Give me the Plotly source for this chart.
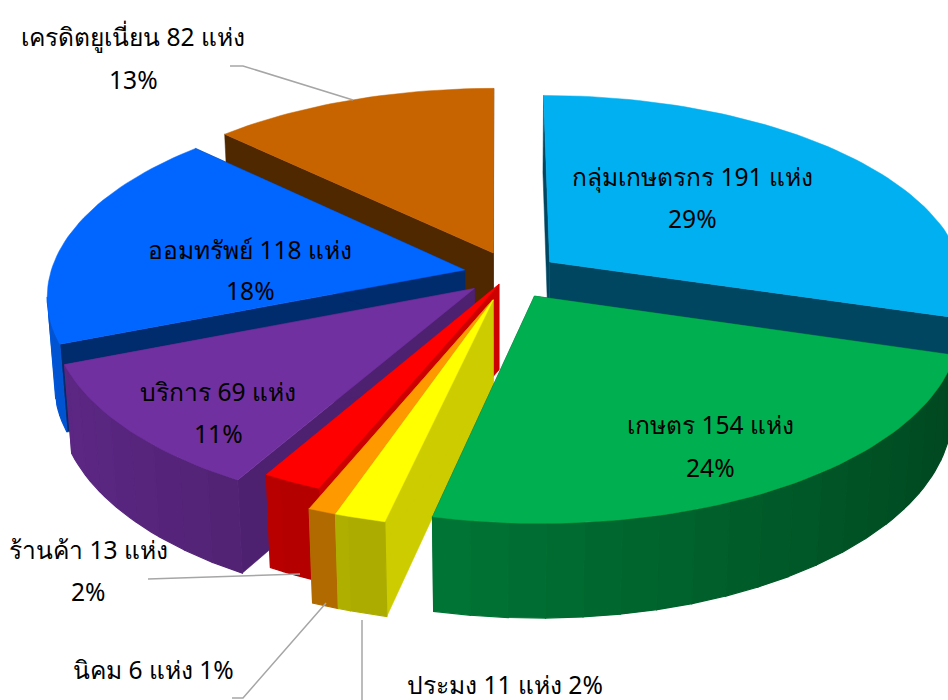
import numpy as np
import plotly.graph_objects as go

names = ["กลุ่มเกษตรกร", "เกษตร", "ประมง", "นิคม", "ร้านค้า", "บริการ", "ออมทรัพย์", "เครดิตยูเนี่ยน"]
counts = [191, 154, 11, 6, 13, 69, 118, 82]
percents = [29, 24, 2, 1, 2, 11, 18, 13]
tops = ["#00B0F0", "#00B050", "#FFFF00", "#FF9900", "#FF0000", "#7030A0", "#0066FF", "#C86400"]
face_shade = [0.40, 0.40, 0.80, 0.75, 0.80, 0.70, 0.43, 0.40]
offset_x = [0.128, 0.089, -0.009, -0.010, 0.005, -0.054, -0.078, -0.009]
offset_y = [0.016, -0.161, -0.180, -0.180, -0.100, -0.122, -0.026, 0.064]
draw_order = [7, 0, 6, 5, 4, 3, 2, 1]

W, H = 948, 700
CX, CY = 497, 265
SCALE, TILT, DIST, THICK = 412.0, np.radians(27.3), 6.84, 0.235


def project(X, Y, z):
    w = DIST + Y * np.cos(TILT) - z * np.sin(TILT)
    s = SCALE * DIST / w
    return CX + s * X, CY - s * (Y * np.sin(TILT) + z * np.cos(TILT))


def shade(hexc, f):
    r, g, b = int(hexc[1:3], 16), int(hexc[3:5], 16), int(hexc[5:7], 16)
    return f"rgb({int(r*f)},{int(g*f)},{int(b*f)})"


def area(px, py):
    px, py = np.asarray(px), np.asarray(py)
    return 0.5 * np.sum(px * np.roll(py, -1) - np.roll(px, -1) * py)


fig = go.Figure()


def poly(px, py, color, width=0.5):
    fig.add_trace(go.Scatter(x=list(px) + [px[0]], y=list(py) + [py[0]], mode="lines", fill="toself",
                             fillcolor=color, line=dict(color=color, width=width),
                             hoverinfo="skip", showlegend=False))


total = sum(counts)
edges = np.concatenate([[0], np.cumsum(counts)]) / total * 2 * np.pi

for i in draw_order:
    a0, a1 = edges[i], edges[i + 1]
    ox, oy = offset_x[i], offset_y[i]
    n = max(2, int(np.degrees(a1 - a0) / 1.5))
    th = np.linspace(a0, a1, n + 1)
    X, Y = ox + np.sin(th), oy + np.cos(th)
    tx, ty = project(X, Y, 0.0)
    bx, by = project(X, Y, -THICK)
    ax, ay = project(ox, oy, 0.0)
    ax2, ay2 = project(ox, oy, -THICK)
    for k in (0, -1):
        poly([ax, tx[k], bx[k], ax2], [ay, ty[k], by[k], ay2], shade(tops[i], face_shade[i]))
    # outer wall: bands of about 5 degrees, each drawn as one polygon
    step = max(1, int(round(5 / np.degrees(th[1] - th[0]))))
    for k in range(0, n, step):
        e = min(k + step, n)
        px = list(tx[k:e + 1]) + list(bx[k:e + 1][::-1])
        py = list(ty[k:e + 1]) + list(by[k:e + 1][::-1])
        if area(px, py) < 0:
            f = 0.62 - 0.22 * np.sin((th[k] + th[e]) / 2)
            poly(px, py, shade(tops[i], f), width=1.2)
    poly(list(tx) + [ax], list(ty) + [ay], tops[i])

leaders = [
    ([230, 243, 353], [66, 66, 100]),
    ([148, 300], [579, 574]),
    ([232, 243, 326], [698, 698, 603]),
    ([362, 362], [620, 700]),
]
for lx, ly in leaders:
    fig.add_trace(go.Scatter(x=lx, y=ly, mode="lines", line=dict(color="#A6A6A6", width=1.5),
                             hoverinfo="skip", showlegend=False))

label_pos = [(692, 176, 218), (710, 424, 467), (505, 684, None), (153, 669, None),
             (88, 549, 591), (218, 391, 433), (250, 249, 290), (133, 36, 79)]
for i, (x, y1, y2) in enumerate(label_pos):
    head = f"{names[i]} {counts[i]} แห่ง"
    if y2 is None:
        items = [(head + f" {percents[i]}%", y1)]
    else:
        items = [(head, y1), (f"{percents[i]}%", y2)]
    for txt, y in items:
        fig.add_annotation(x=x, y=y, xref="x", yref="y", text=txt, showarrow=False,
                           xanchor="center", yanchor="middle",
                           font=dict(family="Noto Sans, sans-serif", size=24.6, color="black"))

fig.update_layout(width=W, height=H, margin=dict(l=0, r=0, t=0, b=0), plot_bgcolor="white",
                  paper_bgcolor="white", showlegend=False,
                  xaxis=dict(range=[0, W], visible=False, fixedrange=True),
                  yaxis=dict(range=[H, 0], visible=False, fixedrange=True))
fig.write_html("out.html", config={"displayModeBar": False},
               post_script="document.body.style.margin='0';document.documentElement.style.overflow='hidden';")
